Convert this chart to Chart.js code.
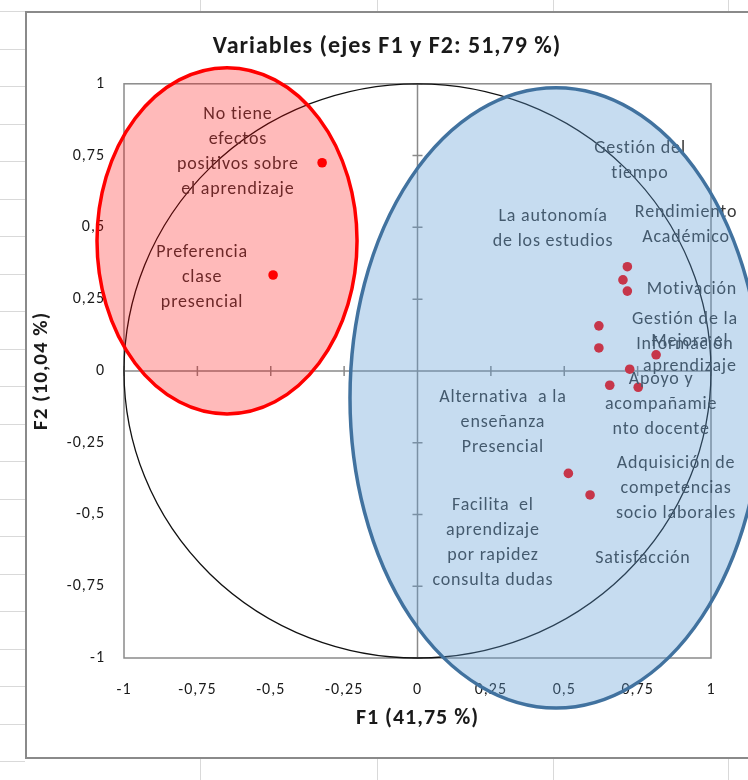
<!DOCTYPE html>
<html lang="es">
<head>
<meta charset="utf-8">
<title>Variables (ejes F1 y F2)</title>
<script src="https://cdn.jsdelivr.net/npm/chart.js@4/dist/chart.umd.min.js"></script>
<style>
  html, body { margin: 0; padding: 0; background: #ffffff; }
  #wrap { width: 748px; height: 780px; position: relative; }
</style>
</head>
<body>
<div id="wrap"><canvas id="pcaChart" width="748" height="780"></canvas></div>
<script>
// ── DATOS ──

const VARIABLES = [
  'No tiene efectos positivos sobre el aprendizaje',
  'Preferencia clase presencial',
  'Gestión del tiempo',
  'Rendimiento Académico',
  'Motivación',
  'La autonomía de los estudios',
  'Gestión de la Información',
  'Mejora el aprendizaje',
  'Apoyo y acompañamiento docente',
  'Alternativa a la enseñanza Presencial',
  'Satisfacción',
  'Adquisición de competencias socio laborales',
  'Facilita el aprendizaje por rapidez consulta dudas'
];

const F1 = [-0.325, -0.492, 0.715, 0.700, 0.715, 0.618, 0.618, 0.813, 0.752, 0.655, 0.723, 0.588, 0.514];
const F2 = [ 0.725,  0.334, 0.363, 0.317, 0.278, 0.157, 0.080, 0.056, -0.057, -0.050, 0.006, -0.432, -0.357];

// texto de las etiquetas tal como aparece (con los cortes de línea de Excel)
const LABEL_LINES = [
  ['No tiene', 'efectos', 'positivos sobre', 'el aprendizaje'],
  ['Preferencia', 'clase', 'presencial'],
  ['Gestión del', 'tiempo'],
  ['Rendimiento', 'Académico'],
  ['Motivación'],
  ['La autonomía', 'de los estudios'],
  ['Gestión de la', 'Información'],
  ['Mejora el', 'aprendizaje'],
  ['Apoyo y', 'acompañamie', 'nto docente'],
  ['Alternativa  a la', 'enseñanza', 'Presencial'],
  ['Satisfacción'],
  ['Adquisición de', 'competencias', 'socio laborales'],
  ['Facilita  el', 'aprendizaje', 'por rapidez', 'consulta dudas']
];

const AXIS_MIN  = -1;
const AXIS_MAX  = 1;
const AXIS_STEP = 0.25;

// ── LAYOUT / ESTILO ──

const CHART_FONT = "Carlito, Calibri, Lato, 'Open Sans', sans-serif";
const TEXT_COLOR = '#1a1a1a';
const LABEL_COLOR = '#383838';
const FRAME_COLOR = '#8a8a8a';
const SHEET_GRID = '#d9d9d9';

// centro de cada bloque de texto, en unidades de los ejes
const LABEL_AT = [
  [-0.612, 0.763], [-0.734, 0.326], [0.758, 0.730], [0.915, 0.507],
  [0.935, 0.282], [0.462, 0.493], [0.911, 0.136], [0.928, 0.059],
  [0.830, -0.118], [0.291, -0.181], [0.768, -0.652], [0.881, -0.409],
  [0.257, -0.598]
];

// elipses de agrupación, en unidades de los ejes
const GROUP_SHAPES = [
  { cx: -0.649, cy: 0.453, rx: 0.443, ry: 0.603, fill: 'rgba(255,0,0,0.27)', stroke: '#ff0000' },
  { cx: 0.472, cy: -0.094, rx: 0.702, ry: 1.080, fill: 'rgba(91,155,213,0.35)', stroke: '#41729f' }
];

const fmt = v => String(Math.round(v * 100) / 100).replace('.', ',');

// fondo de hoja de cálculo + marco del gráfico
const sheetPlugin = {
  id: 'sheet',
  beforeDraw(chart) {
    const { ctx, width, height } = chart;
    // el texto de Excel en la captura es más ancho que Lato
    ctx.letterSpacing = '1px';
    ctx.save();
    ctx.fillStyle = '#ffffff';
    ctx.fillRect(0, 0, width, height);
    ctx.strokeStyle = SHEET_GRID;
    ctx.lineWidth = 1;
    [200, 377, 553, 728].forEach(x => {
      ctx.beginPath();
      ctx.moveTo(x + 0.5, 0); ctx.lineTo(x + 0.5, 12);
      ctx.moveTo(x + 0.5, 758); ctx.lineTo(x + 0.5, height);
      ctx.stroke();
    });
    for (let y = 11; y < height; y += 37.5) {
      ctx.beginPath();
      ctx.moveTo(0, Math.round(y) + 0.5); ctx.lineTo(25, Math.round(y) + 0.5);
      ctx.stroke();
    }
    ctx.strokeStyle = FRAME_COLOR;
    ctx.lineWidth = 2;
    ctx.beginPath();
    ctx.moveTo(width + 2, 12);
    ctx.lineTo(26, 12);
    ctx.lineTo(26, 758);
    ctx.lineTo(width + 2, 758);
    ctx.stroke();
    ctx.restore();
  }
};

// marco del área de trazado, ejes en 0, marcas y círculo de correlaciones
const plotPlugin = {
  id: 'plotFrame',
  beforeDatasetsDraw(chart) {
    const { ctx, chartArea: { left, right, top, bottom }, scales: { x, y } } = chart;
    const x0 = x.getPixelForValue(0);
    const y0 = y.getPixelForValue(0);
    ctx.save();
    ctx.strokeStyle = FRAME_COLOR;
    ctx.lineWidth = 1.5;
    ctx.strokeRect(left, top, right - left, bottom - top);
    ctx.beginPath();
    ctx.moveTo(left, y0); ctx.lineTo(right, y0);
    ctx.moveTo(x0, top); ctx.lineTo(x0, bottom);
    for (let v = AXIS_MIN; v <= AXIS_MAX + 1e-9; v += AXIS_STEP) {
      const px = x.getPixelForValue(v);
      const py = y.getPixelForValue(v);
      ctx.moveTo(px, y0 - 5); ctx.lineTo(px, y0 + 5);
      ctx.moveTo(x0 - 5, py); ctx.lineTo(x0 + 5, py);
    }
    ctx.stroke();

    ctx.strokeStyle = '#111111';
    ctx.lineWidth = 1.3;
    ctx.beginPath();
    ctx.ellipse(x0, y0, Math.abs(x.getPixelForValue(1) - x0), Math.abs(y.getPixelForValue(1) - y0), 0, 0, Math.PI * 2);
    ctx.stroke();
    ctx.restore();
  },
  afterDatasetsDraw(chart) {
    const { ctx, scales: { x, y } } = chart;
    ctx.save();
    ctx.font = `18px ${CHART_FONT}`;
    ctx.letterSpacing = '0.8px';
    ctx.fillStyle = LABEL_COLOR;
    ctx.textAlign = 'center';
    ctx.textBaseline = 'middle';
    const lineH = 25;
    LABEL_LINES.forEach((lines, i) => {
      const cx = x.getPixelForValue(LABEL_AT[i][0]);
      const cy = y.getPixelForValue(LABEL_AT[i][1]);
      lines.forEach((t, k) => {
        ctx.fillText(t, cx, cy + (k - (lines.length - 1) / 2) * lineH);
      });
    });

    GROUP_SHAPES.forEach(g => {
      const cx = x.getPixelForValue(g.cx);
      const cy = y.getPixelForValue(g.cy);
      const rx = Math.abs(x.getPixelForValue(g.cx + g.rx) - cx);
      const ry = Math.abs(y.getPixelForValue(g.cy + g.ry) - cy);
      ctx.beginPath();
      ctx.ellipse(cx, cy, rx, ry, 0, 0, Math.PI * 2);
      ctx.fillStyle = g.fill;
      ctx.fill();
      ctx.strokeStyle = g.stroke;
      ctx.lineWidth = 3.5;
      ctx.stroke();
    });
    ctx.restore();
  }
};

function buildChart() {
  const ctx = document.getElementById('pcaChart');

  new Chart(ctx, {
    type: 'scatter',
    data: {
      datasets: [{
        label: 'Variables',
        data: VARIABLES.map((name, i) => ({ x: F1[i], y: F2[i] })),
        backgroundColor: '#ff0000',
        borderWidth: 0,
        pointRadius: 4.8,
        pointHoverRadius: 5
      }]
    },
    options: {
      responsive: false,
      animation: false,
      layout: { padding: { left: 26, right: 0, top: 0, bottom: 0 } },
      plugins: {
        legend: { display: false },
        tooltip: { enabled: false },
        title: {
          display: true,
          text: 'Variables (ejes F1 y F2: 51,79 %)',
          font: { family: CHART_FONT, size: 24, weight: 'bold' },
          color: TEXT_COLOR,
          padding: { top: 33, bottom: 22 }
        }
      },
      scales: {
        x: {
          type: 'linear',
          min: AXIS_MIN,
          max: AXIS_MAX,
          afterFit: s => { s.height = 122; },
          grid: { display: false },
          border: { display: false },
          ticks: {
            stepSize: AXIS_STEP,
            padding: 14,
            maxRotation: 0,
            font: { family: CHART_FONT, size: 16 },
            color: TEXT_COLOR,
            callback: val => fmt(val)
          },
          title: {
            display: true,
            text: 'F1 (41,75 %)',
            font: { family: CHART_FONT, size: 22, weight: 'bold' },
            color: TEXT_COLOR,
            padding: { top: 0, bottom: 48 }
          }
        },
        y: {
          type: 'linear',
          min: AXIS_MIN,
          max: AXIS_MAX,
          afterFit: s => { s.width = 98; },
          grid: { display: false },
          border: { display: false },
          ticks: {
            stepSize: AXIS_STEP,
            padding: 11,
            font: { family: CHART_FONT, size: 16 },
            color: TEXT_COLOR,
            callback: val => fmt(val)
          },
          title: {
            display: true,
            text: 'F2 (10,04 %)',
            font: { family: CHART_FONT, size: 21, weight: 'bold' },
            color: TEXT_COLOR,
            padding: { top: 3, bottom: 0 }
          }
        },
        // eje vacío a la derecha: reserva el margen y centra el título como en Excel
        yRight: {
          type: 'linear',
          position: 'right',
          min: AXIS_MIN,
          max: AXIS_MAX,
          afterFit: s => { s.width = 37; },
          grid: { display: false },
          border: { display: false },
          ticks: { display: false }
        }
      }
    },
    plugins: [sheetPlugin, plotPlugin]
  });
}

document.addEventListener('DOMContentLoaded', buildChart);
</script>
</body>
</html>
